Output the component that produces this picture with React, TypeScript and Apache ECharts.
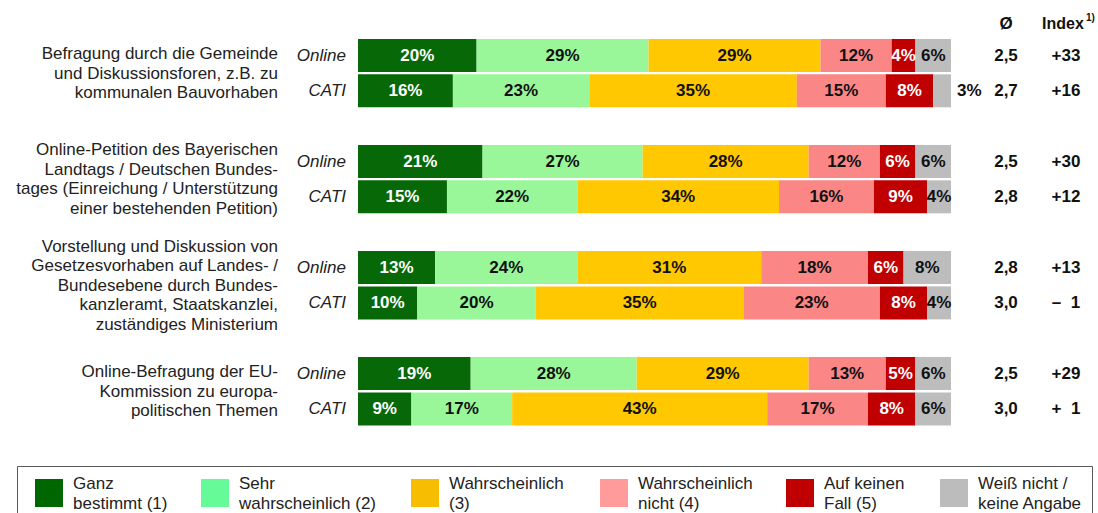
import React, { useEffect, useRef } from "react";
import * as echarts from "echarts";

const FONT = '"Liberation Sans", Arial, Helvetica, sans-serif';

const topics = [
  "Befragung durch die Gemeinde\nund Diskussionsforen, z.B. zu\nkommunalen Bauvorhaben",
  "Online-Petition des Bayerischen\nLandtags / Deutschen Bundes-\ntages (Einreichung / Unterstützung\neiner bestehenden Petition)",
  "Vorstellung und Diskussion von\nGesetzesvorhaben auf Landes- /\nBundesebene durch Bundes-\nkanzleramt, Staatskanzlei,\nzuständiges Ministerium",
  "Online-Befragung der EU-\nKommission zu europa-\npolitischen Themen",
];
const modes = ["Online", "CATI"];

const seriesNames = [
  "Ganz\nbestimmt (1)",
  "Sehr\nwahrscheinlich (2)",
  "Wahrscheinlich\n(3)",
  "Wahrscheinlich\nnicht (4)",
  "Auf keinen\nFall (5)",
  "Weiß nicht /\nkeine Angabe",
];

// order: T1 Online, T1 CATI, T2 Online, T2 CATI, ...
const ganzBestimmt = [20, 16, 21, 15, 13, 10, 19, 9];
const sehrWahrscheinlich = [29, 23, 27, 22, 24, 20, 28, 17];
const wahrscheinlich = [29, 35, 28, 34, 31, 35, 29, 43];
const wahrscheinlichNicht = [12, 15, 12, 16, 18, 23, 13, 17];
const aufKeinenFall = [4, 8, 6, 9, 6, 8, 5, 8];
const weissNicht = [6, 3, 6, 4, 8, 4, 6, 6];

const meanValues = ["2,5", "2,7", "2,5", "2,8", "2,8", "3,0", "2,5", "3,0"];
const indexValues = ["+33", "+16", "+30", "+12", "+13", "–  1", "+29", "+  1"];

const seriesValues = [ganzBestimmt, sehrWahrscheinlich, wahrscheinlich, wahrscheinlichNicht, aufKeinenFall, weissNicht];
const barColors = ["#066806", "#99f799", "#ffc800", "#fb8686", "#c00000", "#bdbdbd"];
const legendColors = ["#006600", "#66fb98", "#f7bd00", "#ff9b9b", "#c00000", "#bcbcbc"];
const labelColors = ["#ffffff", "#111111", "#111111", "#111111", "#ffffff", "#111111"];
const legendLefts = [35, 201, 411, 600, 786, 940];

// rows with gaps between topics
const rowKeys: string[] = [];
const rowSource: number[] = [];
topics.forEach((_, ti) => {
  modes.forEach((m, mi) => {
    rowKeys.push(`${ti}-${m}`);
    rowSource.push(ti * 2 + mi);
  });
  if (ti < topics.length - 1) {
    rowKeys.push(`gap-${ti}`);
    rowSource.push(-1);
  }
});
// description axis: boundaryGap false, one more slot than rows
const descAxis: string[] = new Array(rowKeys.length + 1).fill("");
topics.forEach((t, ti) => {
  descAxis[ti * 3 + 1] = t;
});

export default function App() {
  const ref = useRef<HTMLDivElement>(null);
  useEffect(() => {
    if (!ref.current) return;
    const chart = echarts.init(ref.current, undefined, { renderer: "svg" });
    const series = seriesValues.map((vals, si) => ({
      type: "bar",
      name: seriesNames[si],
      stack: "total",
      barWidth: 33,
      yAxisIndex: 0,
      itemStyle: { color: barColors[si] },
      label: {
        show: true,
        formatter: "{c}%",
        color: labelColors[si],
        fontWeight: "bold",
        fontSize: 17,
        fontFamily: FONT,
      },
      data: rowSource.map((s) => {
        if (s < 0) return null;
        const v = vals[s];
        if (v <= 3) {
          return { value: v, label: { position: "right", distance: 6, color: "#111111" } };
        }
        return v;
      }),
    }));

    const legends = seriesNames.map((n, si) => ({
      data: [{ name: n, itemStyle: { color: legendColors[si] } }],
      left: legendLefts[si],
      top: 473,
      padding: 0,
      itemWidth: 28,
      itemHeight: 28,
      selectedMode: false,
      icon: "rect",
      textStyle: {
        fontFamily: FONT,
        fontSize: 17,
        lineHeight: 20,
        color: "#222",
        padding: [0, 0, 0, 5],
      },
    }));

    chart.setOption({
      animation: false,
      backgroundColor: "#ffffff",
      grid: { left: 358, right: 147, top: 37.8, height: 388.8 },
      xAxis: { type: "value", min: 0, max: 100, show: false },
      yAxis: [
        {
          type: "category",
          data: rowKeys,
          inverse: true,
          position: "left",
          axisLine: { show: false },
          axisTick: { show: false },
          axisLabel: {
            interval: 0,
            margin: 12,
            fontFamily: FONT,
            fontSize: 17,
            fontStyle: "italic",
            color: "#222",
            formatter: (_v: string, idx: number) => (rowSource[idx] < 0 ? "" : modes[rowSource[idx] % 2]),
          },
        },
        {
          type: "category",
          data: rowKeys,
          inverse: true,
          position: "right",
          axisLine: { show: false },
          axisTick: { show: false },
          axisLabel: {
            interval: 0,
            margin: 35,
            align: "left",
            formatter: (_v: string, idx: number) => {
              const s = rowSource[idx];
              if (s < 0) return "";
              return `{m|${meanValues[s]}}{i|${indexValues[s]}}`;
            },
            rich: {
              m: { width: 40, align: "center", fontFamily: FONT, fontSize: 17, fontWeight: "bold", color: "#111" },
              i: { width: 80, align: "center", fontFamily: FONT, fontSize: 17, fontWeight: "bold", color: "#111" },
            },
          },
        },
        {
          type: "category",
          data: descAxis,
          inverse: true,
          boundaryGap: false,
          position: "left",
          axisLine: { show: false },
          axisTick: { show: false },
          axisLabel: {
            interval: 0,
            margin: 80,
            align: "right",
            fontFamily: FONT,
            fontSize: 17,
            lineHeight: 19.5,
            color: "#222",
          },
        },
      ],
      legend: legends,
      graphic: [
        {
          type: "rect",
          z: -1,
          shape: { x: 17.5, y: 466.5, width: 1075, height: 60 },
          style: { fill: "none", stroke: "#5a5a5a", lineWidth: 1 },
        },
        {
          type: "text",
          x: 1006,
          y: 23,
          style: { text: "Ø", align: "center", verticalAlign: "middle", fontFamily: FONT, fontSize: 17, fontWeight: "bold", fill: "#111" },
        },
        {
          type: "text",
          x: 1042,
          y: 23,
          style: { text: "Index", align: "left", verticalAlign: "middle", fontFamily: FONT, fontSize: 16, fontWeight: "bold", fill: "#111" },
        },
        {
          type: "text",
          x: 1086,
          y: 17,
          style: { text: "1)", align: "left", verticalAlign: "middle", fontFamily: FONT, fontSize: 10, fontWeight: "bold", fill: "#111" },
        },
      ],
      series,
    });
    return () => chart.dispose();
  }, []);
  return (
    <div
      ref={ref}
      style={{ position: "fixed", left: 0, top: 0, width: 1098, height: 513, background: "#fff" }}
    />
  );
}
